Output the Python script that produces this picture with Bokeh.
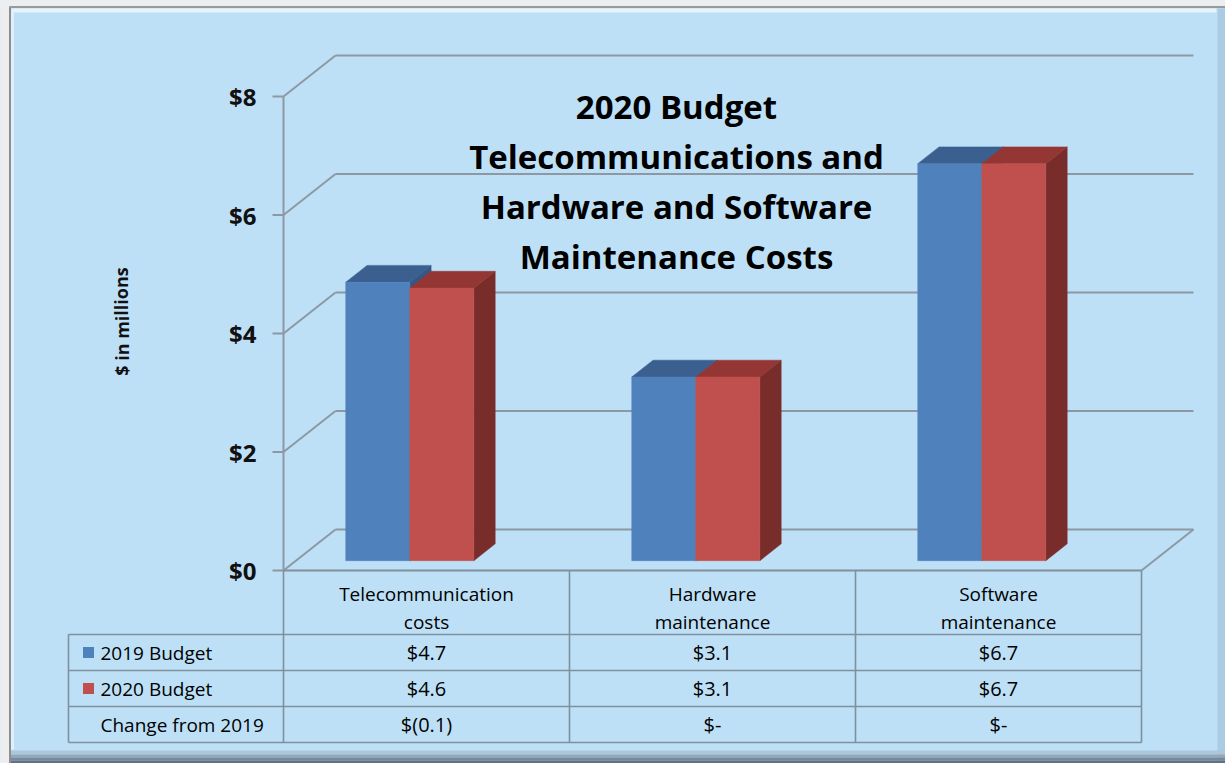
from bokeh.plotting import figure
from bokeh.models import Range1d
from bokeh.core.properties import value
from bokeh.embed import file_html
from bokeh.resources import INLINE

# ---------------- data ----------------
categories = ["Telecommunication\ncosts", "Hardware\nmaintenance", "Software\nmaintenance"]
series_names = ["2019 Budget", "2020 Budget"]
budget_2019 = [4.7, 3.1, 6.7]
budget_2020 = [4.6, 3.1, 6.7]
change_label = "Change from 2019"
change_from_2019 = [-0.1, 0.0, 0.0]
y_ticks = [0, 2, 4, 6, 8]
y_tick_labels = ["$0", "$2", "$4", "$6", "$8"]
y_title = "$ in millions"
title_lines = ["2020 Budget", "Telecommunications and", "Hardware and Software", "Maintenance Costs"]

# ---------------- layout / style ----------------
W, H = 1225, 763
OX, OY = 0, 0
AX_PX, ZERO_PY = 283, 570  # front axis x and zero line y (page px)
XU, YU = 286.0, 59.25      # px per category, px per value unit
DX, DY = 52 / XU, 41 / YU  # full depth offset in data units
D0, DB = 0.24, 0.41        # bar front depth, bar depth
BAR_OFF, BAR_W = 0.174, 0.224

def px2x(px):
    return (px - AX_PX) / XU

def py2y(py):
    return (ZERO_PY - py) / YU

FONT = value("Open Sans")
BG = "#BDE0F7"
GRID = "#8D98A2"
TABLE = "#80909C"
BLUE, BLUE_TOP = "#4F81BD", "#3B5F8E"
RED, RED_TOP, RED_SIDE = "#C0504D", "#943634", "#792D2B"

p = figure(width=W, height=H, output_backend="svg", toolbar_location=None,
           x_range=Range1d(px2x(OX), px2x(OX + W)), y_range=Range1d(py2y(OY + H), py2y(OY)),
           x_axis_location=None, y_axis_location=None, min_border=0)
p.grid.visible = False
p.background_fill_color = BG
p.border_fill_color = BG
p.outline_line_color = None

n = len(categories)

# ---------------- frame bevel effects ----------------
def band(x0, x1, y0, y1, color):
    p.quad(left=[px2x(x0)], right=[px2x(x1)], top=[py2y(y0)], bottom=[py2y(y1)],
           fill_color=color, line_color=None)

band(0, 9, 0, 763, "#EEEEEE")
band(0, 1225, 0, 6, "#EEEEEE")
band(1217, 1225, 8, 763, "#AACBE4")
band(10, 1225, 750, 754, "#ADC6DA")
band(10, 1225, 754, 757, "#93A8BA")
band(10, 1225, 757, 760, "#778A9C")
band(10, 1225, 760, 763, "#627284")
p.segment(x0=[px2x(9.5)], y0=[py2y(6)], x1=[px2x(9.5)], y1=[py2y(763)], line_color="#8E8E8E", line_width=2)
p.segment(x0=[px2x(9)], y0=[py2y(6.5)], x1=[px2x(1225)], y1=[py2y(6.5)], line_color="#9A9A9A", line_width=2)
p.segment(x0=[px2x(11)], y0=[py2y(10)], x1=[px2x(1216)], y1=[py2y(10)], line_color="#E6F4FD", line_width=4)
p.segment(x0=[px2x(12)], y0=[py2y(10)], x1=[px2x(12)], y1=[py2y(749)], line_color="#DDF0FC", line_width=3)

# ---------------- walls / grid ----------------
p.segment(x0=[DX] * len(y_ticks), y0=[t + DY for t in y_ticks],
          x1=[n + DX] * len(y_ticks), y1=[t + DY for t in y_ticks], line_color=GRID, line_width=2)
p.segment(x0=[0] * len(y_ticks), y0=y_ticks, x1=[DX] * len(y_ticks),
          y1=[t + DY for t in y_ticks], line_color=GRID, line_width=2)
p.segment(x0=[n], y0=[0], x1=[n + DX], y1=[DY], line_color=GRID, line_width=2)
p.segment(x0=[0], y0=[y_ticks[0]], x1=[0], y1=[y_ticks[-1]], line_color=GRID, line_width=2)
p.segment(x0=[px2x(272)] * len(y_ticks), y0=y_ticks, x1=[0] * len(y_ticks), y1=y_ticks,
          line_color=GRID, line_width=2)

# ---------------- 3D bars ----------------
fx, fy = D0 * DX, D0 * DY
bx, by = DB * DX, DB * DY
for s, (vals, front, top, side) in enumerate([(budget_2019, BLUE, BLUE_TOP, "#345783"),
                                              (budget_2020, RED, RED_TOP, RED_SIDE)]):
    lefts = [i + BAR_OFF + s * BAR_W + fx for i in range(n)]
    rights = [l + BAR_W for l in lefts]
    tops = [fy + v for v in vals]
    p.patches(xs=[[r, r, r + bx, r + bx] for r in rights],
              ys=[[fy, t, t + by, fy + by] for t in tops],
              fill_color=side, line_color=side, line_width=0.5)
    p.patches(xs=[[l, r, r + bx, l + bx] for l, r in zip(lefts, rights)],
              ys=[[t, t, t + by, t + by] for t in tops],
              fill_color=top, line_color=top, line_width=0.5)
    p.quad(left=lefts, right=rights, bottom=[fy] * n, top=tops,
           fill_color=front, line_color=front, line_width=0.5)

# ---------------- data table ----------------
row_py = [634, 670, 706, 742]
row_y = [py2y(v) for v in row_py]
tab_left = px2x(68)
p.segment(x0=[0], y0=[0], x1=[n], y1=[0], line_color=TABLE, line_width=2)
p.segment(x0=[tab_left] * 4, y0=row_y, x1=[n] * 4, y1=row_y, line_color=TABLE, line_width=1.6)
p.segment(x0=list(range(n + 1)), y0=[0] * (n + 1), x1=list(range(n + 1)), y1=[row_y[-1]] * (n + 1),
          line_color=TABLE, line_width=1.6)
p.segment(x0=[tab_left], y0=[row_y[0]], x1=[tab_left], y1=[row_y[-1]], line_color=TABLE, line_width=1.6)

centers = [i + 0.5 for i in range(n)]
l1 = [c.split("\n")[0] for c in categories]
l2 = [c.split("\n")[1] for c in categories]
p.text(x=centers, y=[py2y(593)] * n, text=l1, text_font=FONT, text_font_size="19px",
       text_align="center", text_baseline="middle", text_color="#000000")
p.text(x=centers, y=[py2y(621)] * n, text=l2, text_font=FONT, text_font_size="19px",
       text_align="center", text_baseline="middle", text_color="#000000")

row_c = [py2y(652), py2y(688), py2y(724)]

def money(v):
    return f"${v:.1f}"

def change_fmt(v):
    if abs(v) < 1e-9:
        return "$-"
    return f"$({abs(v):.1f})" if v < 0 else f"${v:.1f}"

for r, texts in enumerate([[money(v) for v in budget_2019], [money(v) for v in budget_2020],
                           [change_fmt(v) for v in change_from_2019]]):
    p.text(x=centers, y=[row_c[r]] * n, text=texts, text_font=FONT, text_font_size="20px",
           text_align="center", text_baseline="middle", text_color="#000000")

p.scatter(x=[px2x(88)] * 2, y=row_c[:2], marker="square", size=11,
          fill_color=[BLUE, RED], line_color=None)
p.text(x=[px2x(100)] * 3, y=row_c, text=series_names + [change_label], text_font=FONT,
       text_font_size="19px", text_align="left", text_baseline="middle",
       text_color="#000000")

# ---------------- axis labels and title ----------------
p.text(x=[px2x(256)] * len(y_ticks), y=y_ticks, text=y_tick_labels, text_font=FONT,
       text_font_size="24px", text_font_style="bold", text_align="right", text_baseline="middle",
       text_color="#111111")
p.text(x=[px2x(121)], y=[py2y(321)], text=[y_title], text_font=FONT, text_font_size="18px",
       text_font_style="bold", angle=1.5708, text_align="center", text_baseline="middle",
       text_color="#111111")
p.text(x=[px2x(676)] * len(title_lines), y=[py2y(106 + 50 * k) for k in range(len(title_lines))],
       text=title_lines, text_font=FONT, text_font_size="33px", text_font_style="bold",
       text_align="center", text_baseline="middle", text_color="#000000")

html = file_html(p, INLINE)
open("out.html", "w").write(html)
